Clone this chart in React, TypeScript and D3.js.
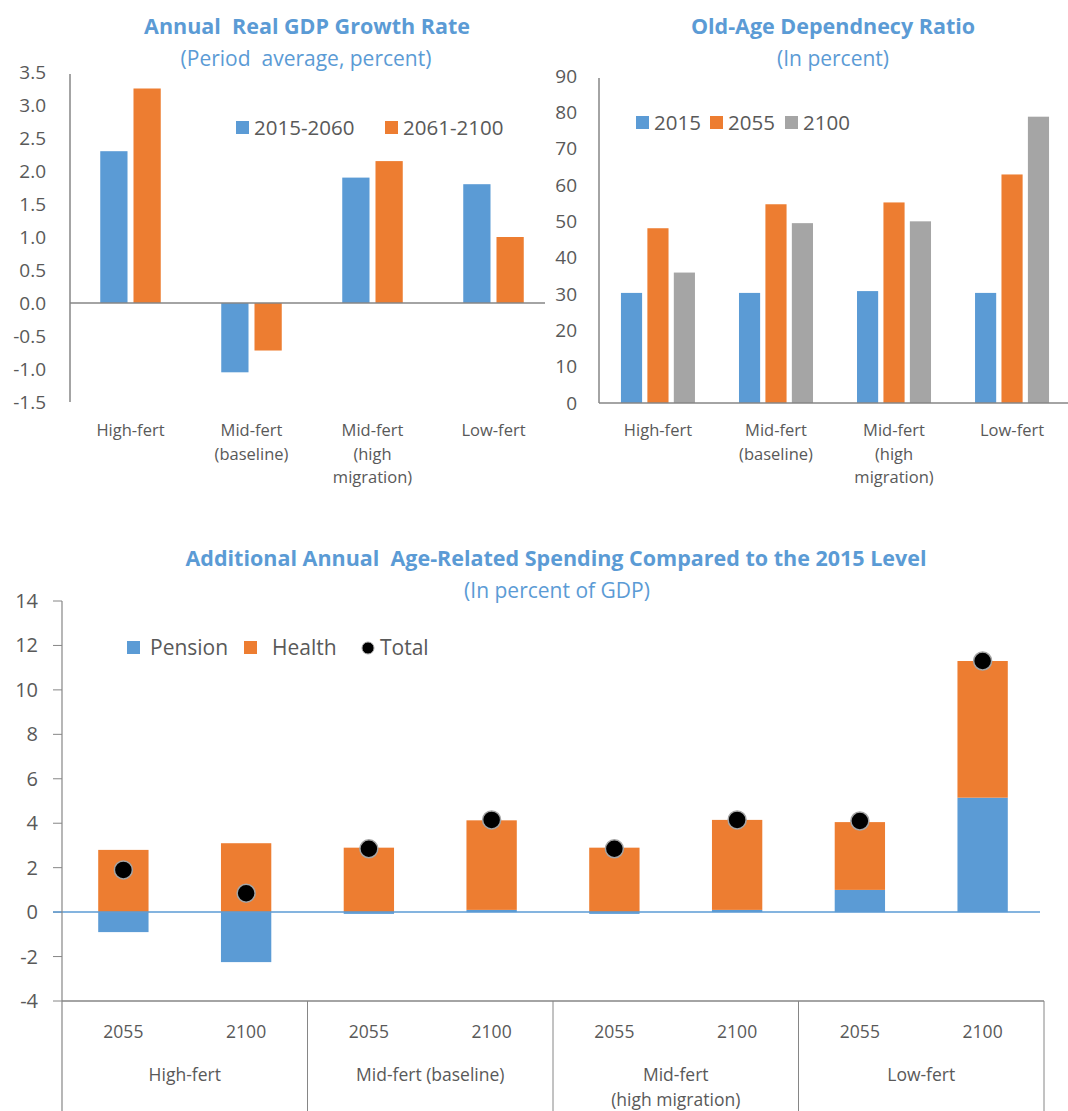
import * as d3 from 'd3';

// top-left: real GDP growth
const gdpCategories = [['High-fert'], ['Mid-fert', '(baseline)'], ['Mid-fert', '(high', 'migration)'], ['Low-fert']];
const gdpSeries = ['2015-2060', '2061-2100'];
const gdp2015to2060 = [2.3, -1.05, 1.9, 1.8];
const gdp2061to2100 = [3.25, -0.72, 2.15, 1.0];
const gdpTicks = [3.5, 3.0, 2.5, 2.0, 1.5, 1.0, 0.5, 0.0, -0.5, -1.0, -1.5];

// top-right: old-age dependency ratio
const oadrCategories = [['High-fert'], ['Mid-fert', '(baseline)'], ['Mid-fert', '(high', 'migration)'], ['Low-fert']];
const oadrSeries = ['2015', '2055', '2100'];
const oadr2015 = [30.3, 30.3, 30.8, 30.3];
const oadr2055 = [48.1, 54.7, 55.2, 62.9];
const oadr2100 = [35.9, 49.5, 50.0, 78.8];
const oadrTicks = [0, 10, 20, 30, 40, 50, 60, 70, 80, 90];

// bottom: age-related spending
const spendGroups = [['High-fert'], ['Mid-fert (baseline)'], ['Mid-fert', '(high migration)'], ['Low-fert']];
const spendYears = ['2055', '2100'];
const pension = [-0.9, -2.25, -0.08, 0.1, -0.08, 0.1, 1.0, 5.15];
const health = [2.8, 3.1, 2.9, 4.03, 2.9, 4.05, 3.05, 6.15];
const total = [1.9, 0.85, 2.85, 4.15, 2.85, 4.15, 4.1, 11.3];
const spendTicks = [14, 12, 10, 8, 6, 4, 2, 0, -2, -4];

const BLUE = '#5B9BD5';
const ORANGE = '#ED7D31';
const GREY = '#A5A5A5';
const TITLE = '#5B9BD5';
const TXT = '#595959';
const AXIS = '#868686';
const FONT = '"Open Sans", "Noto Sans", sans-serif';
const pre = { whiteSpace: 'pre' as const };

function GdpChart() {
  const x0 = d3.scaleBand<number>().domain(d3.range(4)).range([70, 554]).paddingInner(0.5).paddingOuter(0.25);
  const x1 = d3.scaleBand<string>().domain(gdpSeries).range([0, x0.bandwidth()]).paddingInner(0.18);
  const y = d3.scaleLinear().domain([-1.5, 3.5]).range([402, 72]);
  const vals = [gdp2015to2060, gdp2061to2100];
  const cols = [BLUE, ORANGE];
  return (
    <g>
      <text x={307} y={34} textAnchor="middle" fontSize={21.5} fontWeight="bold" fill={TITLE} style={pre}>Annual  Real GDP Growth Rate</text>
      <text x={306} y={66} textAnchor="middle" fontSize={21} fill={TITLE} style={pre}>(Period  average, percent)</text>
      {gdpTicks.map(t => (
        <text key={t} x={46} y={y(t)} dy="0.35em" textAnchor="end" fontSize={19} fill={TXT}>{t.toFixed(1)}</text>
      ))}
      {gdpSeries.map((s, si) => vals[si].map((v, i) => (
        <rect key={s + i} x={x0(i)! + x1(s)!} width={x1.bandwidth()} y={y(Math.max(0, v))} height={Math.abs(y(v) - y(0))} fill={cols[si]} />
      )))}
      <line x1={70} x2={70} y1={y(3.5) + 2} y2={y(-1.5)} stroke={AXIS} strokeWidth={1.5} />
      <line x1={70} x2={545} y1={y(0)} y2={y(0)} stroke={AXIS} strokeWidth={1.5} />
      {gdpCategories.map((lines, i) => (
        <text key={i} textAnchor="middle" fontSize={16.5} fill={TXT}>
          {lines.map((l, j) => (
            <tspan key={j} x={x0(i)! + x0.bandwidth() / 2} y={436 + j * 23.5}>{l}</tspan>
          ))}
        </text>
      ))}
      {gdpSeries.map((s, si) => {
        const lx = [236, 385][si];
        return (
          <g key={s}>
            <rect x={lx} y={121} width={13} height={13} fill={cols[si]} />
            <text x={lx + 18} y={128} dy="0.35em" fontSize={20.5} fill={TXT}>{s}</text>
          </g>
        );
      })}
    </g>
  );
}

function OadrChart() {
  const x0 = d3.scaleBand<number>().domain(d3.range(4)).range([599, 1071]).paddingInner(0.373).paddingOuter(0.186);
  const x1 = d3.scaleBand<string>().domain(oadrSeries).range([0, x0.bandwidth()]).paddingInner(0.2);
  const y = d3.scaleLinear().domain([0, 90]).range([403, 76]);
  const vals = [oadr2015, oadr2055, oadr2100];
  const cols = [BLUE, ORANGE, GREY];
  return (
    <g>
      <text x={833} y={34} textAnchor="middle" fontSize={21.5} fontWeight="bold" fill={TITLE}>Old-Age Dependnecy Ratio</text>
      <text x={833} y={66} textAnchor="middle" fontSize={21} fill={TITLE}>(In percent)</text>
      {oadrTicks.map(t => (
        <text key={t} x={577} y={y(t)} dy="0.35em" textAnchor="end" fontSize={19} fill={TXT}>{t}</text>
      ))}
      {oadrSeries.map((s, si) => vals[si].map((v, i) => (
        <rect key={s + i} x={x0(i)! + x1(s)!} width={x1.bandwidth()} y={y(v)} height={y(0) - y(v)} fill={cols[si]} />
      )))}
      <line x1={599} x2={599} y1={y(90) + 2} y2={y(0)} stroke={AXIS} strokeWidth={1.5} />
      <line x1={599} x2={1068} y1={y(0)} y2={y(0)} stroke={AXIS} strokeWidth={1.5} />
      {oadrCategories.map((lines, i) => (
        <text key={i} textAnchor="middle" fontSize={16.5} fill={TXT}>
          {lines.map((l, j) => (
            <tspan key={j} x={x0(i)! + x0.bandwidth() / 2} y={436 + j * 23.5}>{l}</tspan>
          ))}
        </text>
      ))}
      {oadrSeries.map((s, si) => {
        const lx = [636, 710, 785][si];
        return (
          <g key={s}>
            <rect x={lx} y={116} width={13} height={13} fill={cols[si]} />
            <text x={lx + 18} y={123} dy="0.35em" fontSize={20.5} fill={TXT}>{s}</text>
          </g>
        );
      })}
    </g>
  );
}

function SpendChart() {
  const keys = d3.range(total.length);
  const x = d3.scaleBand<number>().domain(keys).range([62, 1044]).paddingInner(0.59).paddingOuter(0.295);
  const y = d3.scaleLinear().domain([-4, 14]).range([1001, 601]);
  const groupW = (1044 - 62) / spendGroups.length;
  return (
    <g>
      <text x={556} y={566} textAnchor="middle" fontSize={21.5} fontWeight="bold" fill={TITLE} style={pre}>Additional Annual  Age-Related Spending Compared to the 2015 Level</text>
      <text x={557} y={598} textAnchor="middle" fontSize={21} fill={TITLE}>(In percent of GDP)</text>
      {spendTicks.map(t => (
        <g key={t}>
          <text x={38} y={y(t)} dy="0.35em" textAnchor="end" fontSize={20} fill={TXT}>{t}</text>
          <line x1={53} x2={62} y1={y(t)} y2={y(t)} stroke={AXIS} strokeWidth={1} />
        </g>
      ))}
      {keys.map(i => (
        <g key={i}>
          <rect x={x(i)} width={x.bandwidth()} y={y(Math.max(0, pension[i]))} height={Math.abs(y(pension[i]) - y(0))} fill={BLUE} />
          <rect x={x(i)} width={x.bandwidth()} y={y(health[i] + Math.max(0, pension[i]))} height={y(0) - y(health[i])} fill={ORANGE} />
        </g>
      ))}
      <line x1={53} x2={1040} y1={y(0)} y2={y(0)} stroke={BLUE} strokeWidth={1.5} />
      <line x1={62} x2={62} y1={y(14)} y2={1111} stroke={AXIS} strokeWidth={1.2} />
      <line x1={62} x2={1044} y1={y(-4)} y2={y(-4)} stroke={AXIS} strokeWidth={1.5} />
      {d3.range(1, spendGroups.length + 1).map(g => (
        <line key={g} x1={62 + g * groupW} x2={62 + g * groupW} y1={y(-4)} y2={1111} stroke={AXIS} strokeWidth={1} />
      ))}
      {keys.map(i => (
        <circle key={i} cx={x(i)! + x.bandwidth() / 2} cy={y(total[i])} r={9} fill="#000" stroke={GREY} strokeWidth={1.5} />
      ))}
      {keys.map(i => (
        <text key={i} x={x(i)! + x.bandwidth() / 2} y={1032} dy="0.35em" textAnchor="middle" fontSize={17.5} fill={TXT}>{spendYears[i % 2]}</text>
      ))}
      {spendGroups.map((lines, g) => (
        <text key={g} textAnchor="middle" fontSize={17.5} fill={TXT}>
          {lines.map((l, j) => (
            <tspan key={j} x={62 + (g + 0.5) * groupW} y={1081 + j * 25}>{l}</tspan>
          ))}
        </text>
      ))}
      <rect x={127} y={641} width={13} height={13} fill={BLUE} />
      <text x={150} y={648} dy="0.35em" fontSize={21} fill={TXT}>Pension</text>
      <rect x={244} y={641} width={13} height={13} fill={ORANGE} />
      <text x={272} y={648} dy="0.35em" fontSize={21} fill={TXT}>Health</text>
      <circle cx={368} cy={648} r={6} fill="#000" stroke={GREY} strokeWidth={1} />
      <text x={380} y={648} dy="0.35em" fontSize={21} fill={TXT}>Total</text>
    </g>
  );
}

export default function App() {
  return (
    <div style={{ position: 'absolute', left: 0, top: 0 }}>
      <svg width={1068} height={1111} style={{ display: 'block', fontFamily: FONT, background: '#fff' }}>
        <GdpChart />
        <OadrChart />
        <SpendChart />
      </svg>
    </div>
  );
}
